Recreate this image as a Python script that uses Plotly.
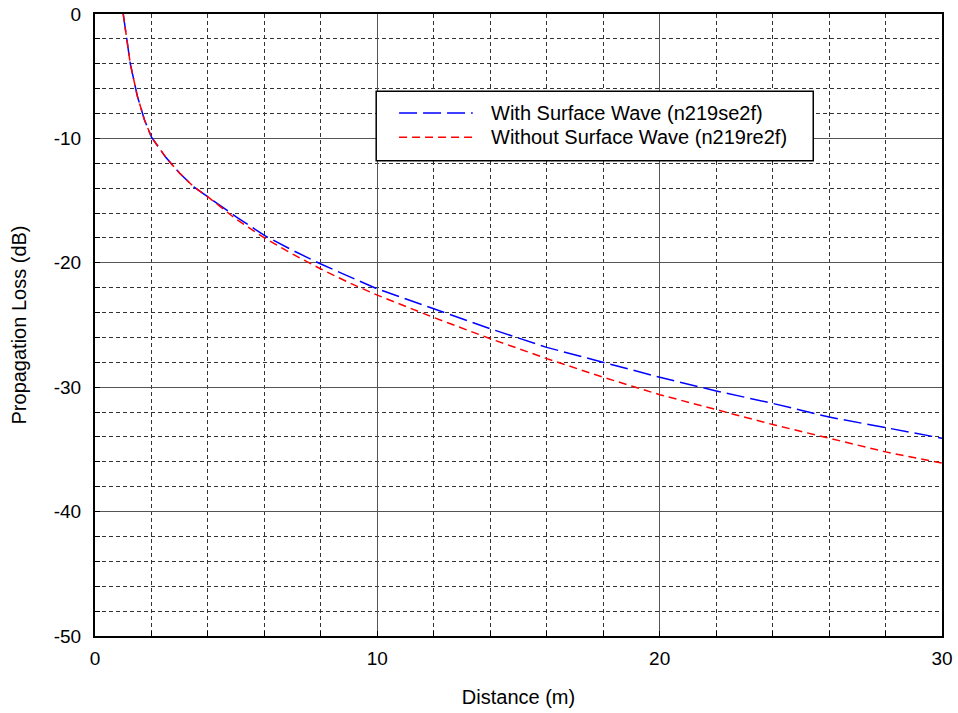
import plotly.graph_objects as go

# ---- data ----
distance = [1, 1.25, 1.5, 1.75, 2, 2.5, 3, 3.5, 4, 5, 6, 7, 8, 9, 10,
            12, 14, 16, 18, 20, 22, 24, 26, 28, 30]
with_sw = [0, -4.0, -6.6, -8.5, -9.9, -11.5, -12.8, -13.9, -14.7, -16.3, -17.8,
           -19.0, -20.1, -21.1, -22.1, -23.7, -25.3, -26.8, -28.0, -29.2,
           -30.3, -31.3, -32.4, -33.25, -34.1]
without_sw = [0, -4.0, -6.6, -8.5, -9.9, -11.5, -12.8, -13.9, -14.7, -16.5, -18.0,
              -19.3, -20.5, -21.6, -22.6, -24.4, -26.1, -27.7, -29.2, -30.6,
              -31.8, -33.0, -34.1, -35.2, -36.1]
series_names = ["With Surface Wave (n219se2f)", "Without Surface Wave (n219re2f)"]
x_ticks = [0, 10, 20, 30]
y_ticks = [0, -10, -20, -30, -40, -50]

FONT = "Liberation Sans, Arial, sans-serif"
BLUE_DASH = "18px,6px"
RED_DASH = "8px,5px"

fig = go.Figure()
fig.add_trace(go.Scatter(x=distance, y=with_sw, mode="lines", name=series_names[0],
                         line=dict(color="#0000ff", width=1.5, dash=BLUE_DASH),
                         showlegend=False))
fig.add_trace(go.Scatter(x=distance, y=without_sw, mode="lines", name=series_names[1],
                         line=dict(color="#ff0000", width=1.5, dash=RED_DASH),
                         showlegend=False))

axis_common = dict(
    automargin=False,
    showline=True, linecolor="black", linewidth=2, mirror=True,
    showgrid=True, gridcolor="#555555", gridwidth=1,
    ticks="inside", ticklen=0, tickcolor="black",
    zeroline=False,
    tickfont=dict(family=FONT, size=19, color="black"),
    minor=dict(showgrid=True, gridcolor="#333333", gridwidth=1, griddash="4px,3px",
               ticks="inside", ticklen=5, tickcolor="black", dtick=2),
)

fig.update_xaxes(range=[0, 30], tickvals=x_ticks, ticktext=[str(v) for v in x_ticks],
                 ticklabelstandoff=4,
                 title=dict(text="Distance (m)", font=dict(family=FONT, size=20, color="black"),
                            standoff=22),
                 **axis_common)
fig.update_yaxes(range=[-50, 0], tickvals=y_ticks, ticktext=[str(v) for v in y_ticks],
                 ticklabelstandoff=8,
                 title=dict(text="Propagation Loss (dB)", font=dict(family=FONT, size=20, color="black"),
                            standoff=22),
                 **axis_common)

# ---- custom legend box (matches the reference's long sample lines) ----
lx0, lx1, ly0, ly1 = 0.332, 0.848, 0.764, 0.876
fig.add_shape(type="rect", xref="paper", yref="paper", x0=lx0, x1=lx1, y0=ly0, y1=ly1,
              line=dict(color="black", width=1.5), fillcolor="white", layer="above")
rows = [(0.841, "#0000ff", BLUE_DASH, series_names[0]),
        (0.802, "#ff0000", RED_DASH, series_names[1])]
for yy, col, dash, name in rows:
    fig.add_shape(type="line", xref="paper", yref="paper", x0=0.359, x1=0.446, y0=yy, y1=yy,
                  line=dict(color=col, width=1.5, dash=dash), layer="above")
    fig.add_annotation(xref="paper", yref="paper", x=0.465, y=yy, text=name, showarrow=False,
                       xanchor="left", yanchor="middle",
                       font=dict(family=FONT, size=20, color="black"))

fig.update_layout(
    width=958, height=713,
    margin=dict(l=95, r=16, t=14, b=77),
    paper_bgcolor="white", plot_bgcolor="white",
    font=dict(family=FONT, color="black"),
)

fig.write_html("out.html")
